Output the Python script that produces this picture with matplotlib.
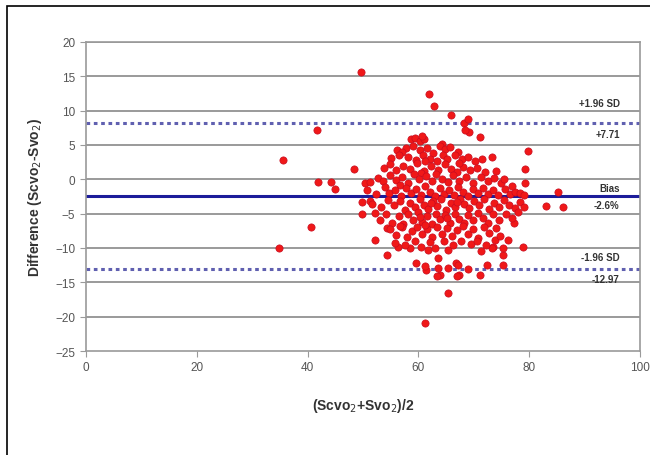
import matplotlib.pyplot as plt
from matplotlib.patches import Rectangle

plt.rcParams['font.family'] = ['Liberation Sans', 'DejaVu Sans']

# points: (mean of the two methods, difference)
outliers = [(49.7, 15.6), (61.9, 12.4), (62.8, 10.7), (65.8, 9.3), (68.2, 8.2), (69.0, 8.7),
            (69.2, 6.9), (71.1, 6.1), (41.7, 7.2), (35.5, 2.85), (79.8, 4.1), (79.3, 1.5),
            (79.3, -0.5), (48.4, 1.45), (41.9, -0.4), (44.3, -0.4), (44.9, -1.35), (85.1, -1.9),
            (83.0, -3.9), (86.0, -4.0), (40.6, -6.9), (34.8, -10.0), (49.8, -3.3), (49.8, -5.0),
            (52.2, -8.8), (54.4, -11.0), (78.9, -9.8), (77.2, -6.4), (59.6, -12.2), (61.3, -13.2),
            (63.8, -13.9), (63.6, -11.5), (65.4, -10.3), (66.7, -12.2), (67.3, -13.9), (69.0, -13.0),
            (71.1, -13.9), (75.2, -12.5), (75.3, -11.0), (75.3, -10.0), (73.5, -9.8), (71.2, -10.5),
            (65.4, -16.5), (61.1, -20.9), (58.5, -10.0), (56.3, -9.8), (54.4, -7.1), (52.2, -4.9),
            (51.3, -3.2), (61.2, -12.6), (63.5, -12.9), (63.4, -14.1), (65.3, -12.9), (67.1, -12.5),
            (67.0, -14.1), (72.4, -12.5), (61.7, -10.3), (73.8, -8.8), (73.3, -10.0), (68.4, 7.1)]

core = [(58.6, 5.8), (59.4, 6.0), (60.3, 5.6), (61.0, 5.9), (60.6, 6.3), (64.2, 5.2),
        (56.2, 4.3), (57.8, 4.6), (59.0, 4.8), (60.2, 4.2), (61.5, 4.5), (63.9, 4.9), (64.8, 4.4),
        (65.6, 4.7), (67.2, 4.0), (57.0, 3.9), (62.6, 3.8),
        (55.0, 3.1), (56.4, 3.6), (58.2, 3.2), (59.6, 2.8), (60.8, 3.5), (62.0, 3.0), (63.3, 2.6),
        (64.4, 3.5), (65.2, 3.0), (66.6, 3.5), (67.8, 2.9), (68.9, 3.3), (70.2, 2.7), (73.3, 3.3),
        (71.5, 3.0), (61.2, 2.6),
        (53.8, 1.6), (54.9, 2.2), (56.0, 1.3), (57.3, 2.0), (58.5, 1.5), (59.8, 2.3), (61.0, 1.2),
        (62.3, 1.9), (63.5, 1.4), (64.7, 2.2), (65.8, 1.5), (66.9, 1.1), (68.0, 1.8), (69.3, 1.3),
        (70.6, 1.7), (72.0, 1.0), (74.0, 1.2), (60.4, 0.9), (67.4, 2.4),
        (50.3, -0.6), (51.2, -0.4), (52.7, 0.2), (53.6, -0.3), (54.8, 0.6), (55.9, -0.1), (57.0, 0.4),
        (58.1, -0.5), (59.2, 0.7), (60.1, 0.0), (61.3, 0.5), (62.4, -0.3), (63.2, 0.8), (64.3, 0.1),
        (65.4, -0.4), (66.2, 0.6), (67.3, -0.2), (68.6, 0.3), (69.8, -0.5), (71.2, 0.4), (72.6, -0.2),
        (73.6, 0.2), (74.8, -0.6), (75.4, 0.1), (56.6, -0.8),
        (50.8, -1.6), (52.4, -2.2), (53.9, -1.1), (54.7, -2.0), (55.7, -1.5), (56.9, -2.4), (57.8, -1.2),
        (58.7, -2.0), (59.5, -1.4), (60.4, -2.3), (61.2, -1.0), (62.0, -1.8), (62.9, -2.4), (63.8, -1.3),
        (64.6, -2.1), (65.5, -1.6), (66.4, -2.3), (67.2, -1.1), (68.1, -1.9), (69.0, -2.4), (69.9, -1.4),
        (70.8, -2.0), (71.7, -1.2), (72.5, -2.2), (73.4, -1.6), (74.3, -2.3), (75.6, -1.4), (76.5, -2.1),
        (77.4, -1.8), (78.3, -2.0), (79.0, -2.3), (76.9, -1.0),
        (51.6, -3.6), (53.2, -4.1), (54.5, -3.0), (55.6, -3.8), (56.7, -3.2), (57.5, -4.4), (58.4, -3.5),
        (59.3, -4.0), (60.2, -2.9), (61.0, -3.7), (61.8, -4.3), (62.6, -3.1), (63.4, -3.9), (64.1, -2.8),
        (64.9, -4.4), (65.8, -3.4), (66.6, -4.0), (67.5, -2.9), (68.3, -3.6), (69.1, -4.2), (70.0, -3.1),
        (70.9, -3.8), (71.8, -2.9), (72.7, -4.3), (73.6, -3.4), (74.5, -4.0), (75.5, -3.0), (76.4, -3.7),
        (77.5, -4.2), (78.4, -3.3), (79.0, -4.0), (67.0, -3.3), (62.2, -3.5),
        (53.0, -6.0), (54.2, -5.1), (55.3, -6.3), (56.4, -5.4), (57.2, -6.5), (58.2, -5.0), (59.0, -5.9),
        (59.9, -4.8), (60.7, -6.2), (61.5, -5.3), (62.4, -6.5), (63.1, -5.0), (63.9, -5.8), (64.8, -5.2),
        (65.7, -6.3), (66.5, -5.0), (67.4, -5.8), (68.2, -6.4), (69.0, -5.2), (69.9, -6.0), (70.7, -4.9),
        (71.6, -5.7), (72.6, -6.4), (73.5, -5.1), (74.6, -5.9), (75.8, -5.0), (76.8, -5.6), (78.0, -4.8),
        (60.3, -5.5), (65.1, -5.6),
        (54.9, -7.3), (56.0, -8.1), (57.0, -7.0), (58.0, -8.4), (58.9, -7.5), (59.8, -6.9), (60.6, -8.0),
        (61.6, -7.2), (62.5, -8.4), (63.4, -7.0), (64.3, -7.9), (65.2, -7.1), (66.1, -8.3), (67.0, -7.4),
        (68.0, -6.8), (68.9, -8.0), (69.8, -7.3), (70.8, -8.5), (71.8, -7.0), (72.8, -7.8), (73.9, -7.1),
        (74.7, -8.2), (56.6, -6.8), (61.1, -6.6),
        (55.7, -9.3), (57.5, -9.6), (59.3, -9.0), (60.5, -9.8), (62.0, -9.2), (63.0, -10.0), (64.6, -9.0),
        (66.3, -9.6), (67.7, -9.0), (69.5, -9.4), (70.5, -9.0), (72.2, -9.5), (76.2, -8.8)]

points = outliers + core
mean_vals = [p[0] for p in points]
diff_vals = [p[1] for p in points]

bias = -2.45
upper_loa = 8.2
lower_loa = -13.05
line_labels = [("+1.96 SD", "+7.71"), ("Bias", "-2.6%"), ("-1.96 SD", "-12.97")]
label_offsets = [(2.9, -1.6), (1.2, -1.3), (1.7, -1.45)]

fig = plt.figure(figsize=(6.5, 4.56), dpi=100)
fig.patches.append(Rectangle((7 / 650, -0.1), 1.2, 1.1 - 7 / 456, transform=fig.transFigure,
                             fill=False, edgecolor='black', linewidth=1.2))
ax = fig.add_axes([0.132, 0.228, 0.853, 0.678])

ax.set_xlim(0, 100)
ax.set_ylim(-25, 20)
ax.set_yticks(range(-25, 21, 5))
ax.set_xticks(range(0, 101, 20))
for y in range(-20, 21, 5):
    ax.axhline(y, color='#9a9a9a', linewidth=1.4, zorder=1)

ax.axhline(upper_loa, color='#6060b0', linewidth=2.2, linestyle=(0, (1.2, 1.2)), zorder=2)
ax.axhline(lower_loa, color='#6060b0', linewidth=2.2, linestyle=(0, (1.2, 1.2)), zorder=2)
ax.axhline(bias, color='#1c1c9a', linewidth=2.2, zorder=2)

ax.scatter(mean_vals, diff_vals, s=27, color='#f01818', edgecolor='#c80c20', linewidth=0.5, zorder=3)

for yl, (top, bottom), (dt, db) in zip([upper_loa, bias, lower_loa], line_labels, label_offsets):
    ax.text(96.3, yl + dt, top, ha='right', va='center', fontsize=7, fontweight='bold', color='#333333')
    ax.text(96.3, yl + db, bottom, ha='right', va='center', fontsize=7, fontweight='bold', color='#333333')

for s in ax.spines.values():
    s.set_color('#9a9a9a')
    s.set_linewidth(1.2)
ax.tick_params(direction='out', length=4, color='#9a9a9a', labelsize=8.5, labelcolor='#555555')

ax.set_ylabel('Difference (Scvo$_2$-Svo$_2$)', fontsize=10, fontweight='bold', color='#333333', labelpad=8)
ax.set_xlabel('(Scvo$_2$+Svo$_2$)/2', fontsize=10, fontweight='bold', color='#333333', labelpad=16)

fig.savefig('out.png', dpi=100)
